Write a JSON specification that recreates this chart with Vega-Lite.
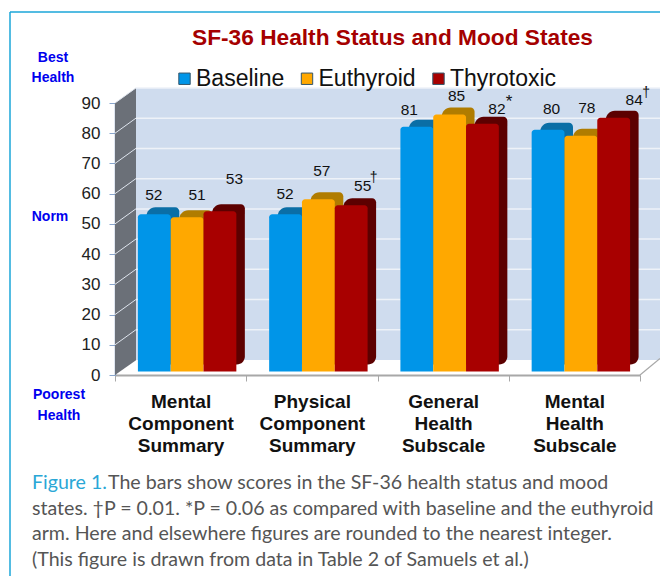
{
"$schema":"https://vega.github.io/schema/vega-lite/v6.json",
"width":525,"height":272,
"autosize":"none",
"padding":{"left":115,"top":103,"right":20,"bottom":201},
"background":"white",
"title":{"text":"SF-36 Health Status and Mood States","font":"Liberation Sans","fontSize":22.7,"fontWeight":"bold","color":"#a50000","anchor":"middle","dx":15,"offset":-56,"baseline":"alphabetic"},
"config":{"view":{"stroke":null},"font":"Liberation Sans","axisY":{"tickCount":10,"grid":false,"labelFontSize":17,"labelColor":"#222222","labelFont":"Liberation Sans","labelPadding":9,"tickSize":6,"tickColor":"#8aa6cc","domainColor":"#7f9cc6","domainWidth":1.5,"zindex":1,"labelOverlap":false}},
"datasets":{
"scores":[
{"scale":"Mental Component Summary","arm":"Baseline","score":52},
{"scale":"Mental Component Summary","arm":"Euthyroid","score":51},
{"scale":"Mental Component Summary","arm":"Thyrotoxic","score":53},
{"scale":"Physical Component Summary","arm":"Baseline","score":52},
{"scale":"Physical Component Summary","arm":"Euthyroid","score":57},
{"scale":"Physical Component Summary","arm":"Thyrotoxic","score":55},
{"scale":"General Health Subscale","arm":"Baseline","score":81},
{"scale":"General Health Subscale","arm":"Euthyroid","score":85},
{"scale":"General Health Subscale","arm":"Thyrotoxic","score":82},
{"scale":"Mental Health Subscale","arm":"Baseline","score":80},
{"scale":"Mental Health Subscale","arm":"Euthyroid","score":78},
{"scale":"Mental Health Subscale","arm":"Thyrotoxic","score":84}
]},
"data":{"name":"scores"},
"resolve":{"scale":{"x":"independent","color":"independent"}},
"layer":[
{"data":{"values":[{"from":0,"to":1,"low":0,"high":90}]},
 "mark":{"type":"rect","color":"#cfdcee","yOffset":-15,"y2Offset":-15},
 "encoding":{"x":{"field":"from","type":"quantitative","axis":null,"scale":{"domain":[0,1],"range":[21,545]}},"x2":{"field":"to"},"y":{"field":"high","type":"quantitative","title":null,"scale":{"domain":[0,90]}},"y2":{"field":"low"}}},
{"data":{"values":[{"from":0,"to":1,"level":10},{"from":0,"to":1,"level":20},{"from":0,"to":1,"level":30},{"from":0,"to":1,"level":40},{"from":0,"to":1,"level":50},{"from":0,"to":1,"level":60},{"from":0,"to":1,"level":70},{"from":0,"to":1,"level":80},{"from":0,"to":1,"level":90}]},
 "mark":{"type":"rule","color":"#eef2f8","strokeWidth":1.5,"yOffset":-15},
 "encoding":{"x":{"field":"from","type":"quantitative","axis":null,"scale":{"domain":[0,1],"range":[21,545]}},"x2":{"field":"to"},"y":{"field":"level","type":"quantitative","title":null}}},
{"data":{"values":[{"depth":0,"floor":0,"ceiling":90},{"depth":1,"floor":4.9,"ceiling":95}]},
 "mark":{"type":"area","color":"#6b7078","clip":false},
 "encoding":{"x":{"field":"depth","type":"quantitative","axis":null,"scale":{"domain":[0,1],"range":[0,21]}},"y":{"field":"ceiling","type":"quantitative","title":null},"y2":{"field":"floor"}}},
{"data":{"values":[{"depth":0,"level":10,"height":10},{"depth":1,"level":10,"height":15},{"depth":0,"level":20,"height":20},{"depth":1,"level":20,"height":25},{"depth":0,"level":30,"height":30},{"depth":1,"level":30,"height":35},{"depth":0,"level":40,"height":40},{"depth":1,"level":40,"height":45},{"depth":0,"level":50,"height":50},{"depth":1,"level":50,"height":55},{"depth":0,"level":60,"height":60},{"depth":1,"level":60,"height":65},{"depth":0,"level":70,"height":70},{"depth":1,"level":70,"height":75},{"depth":0,"level":80,"height":80},{"depth":1,"level":80,"height":85},{"depth":0,"level":90,"height":90},{"depth":1,"level":90,"height":95}]},
 "mark":{"type":"line","color":"#dfe5ee","strokeWidth":1},
 "encoding":{"x":{"field":"depth","type":"quantitative","axis":null,"scale":{"domain":[0,1],"range":[0,21]}},"y":{"field":"height","type":"quantitative","title":null},"detail":{"field":"level"}}},
{"data":{"values":[{"depth":0,"height":0},{"depth":1,"height":5.5}]},
 "mark":{"type":"line","color":"#a8a8a8","strokeWidth":1.2},
 "encoding":{"x":{"field":"depth","type":"quantitative","axis":null,"scale":{"domain":[0,1],"range":[525,545]}},"y":{"field":"height","type":"quantitative","title":null}}},
{"mark":{"type":"bar","yOffset":-10.5,"y2Offset":-10.5,"cornerRadiusTopLeft":9,"cornerRadiusTopRight":4,"cornerRadiusBottomRight":8},
 "encoding":{"x":{"field":"scale","type":"nominal","axis":null,"scale":{"domain":["Mental Component Summary","Physical Component Summary","General Health Subscale","Mental Health Subscale"],"paddingInner":0,"paddingOuter":0,"range":[15,540]}},
 "xOffset":{"field":"arm","type":"nominal","scale":{"domain":["Baseline","Euthyroid","Thyrotoxic"],"paddingInner":0,"paddingOuter":0.5}},
 "y":{"field":"score","type":"quantitative","title":null},"y2":{"datum":0},
 "color":{"field":"arm","type":"nominal","legend":null,"scale":{"domain":["Baseline","Euthyroid","Thyrotoxic"],"range":["#0a6ea6","#b07c00","#5c0000"]}}}},
{"mark":{"type":"bar","yOffset":-3.5,"y2Offset":-3.5,"cornerRadiusTopLeft":3,"cornerRadiusTopRight":3},
 "encoding":{"x":{"field":"scale","type":"nominal","axis":null,"scale":{"domain":["Mental Component Summary","Physical Component Summary","General Health Subscale","Mental Health Subscale"],"paddingInner":0,"paddingOuter":0,"range":[6.5,531.5]}},
 "xOffset":{"field":"arm","type":"nominal","scale":{"domain":["Baseline","Euthyroid","Thyrotoxic"],"paddingInner":0,"paddingOuter":0.5}},
 "y":{"field":"score","type":"quantitative","title":null},"y2":{"datum":0},
 "color":{"field":"arm","type":"nominal","scale":{"domain":["Baseline","Euthyroid","Thyrotoxic"],"range":["#0095e8","#ffa800","#a80000"]},
   "legend":{"title":null,"orient":"none","legendX":58,"legendY":-36,"direction":"horizontal","columns":3,"symbolType":"square","symbolSize":130,"symbolStrokeColor":"#33556a","symbolStrokeWidth":1,"labelFontSize":23,"labelFont":"Liberation Sans","labelColor":"#111111","columnPadding":10.5,"symbolOffset":0,"labelOffset":0}}}},
{"encoding":{"x":{"field":"scale","type":"nominal","title":null,"sort":null,"scale":{"domain":["Mental Component Summary","Physical Component Summary","General Health Subscale","Mental Health Subscale"],"paddingInner":0,"paddingOuter":0},
   "axis":{"labelExpr":"split(datum.label,' ')","labelAngle":0,"labelFontSize":19,"labelFontWeight":"bold","labelColor":"#111111","labelFont":"Liberation Sans","labelLineHeight":22,"labelPadding":11,"labelLimit":200,"tickBand":"extent","tickSize":6,"tickColor":"#a8a8a8","domainColor":"#a8a8a8","domainWidth":2,"labelBaseline":"top"}},
 "xOffset":{"field":"arm","type":"nominal","scale":{"domain":["Baseline","Euthyroid","Thyrotoxic"],"paddingInner":0,"paddingOuter":0.5}},
 "y":{"field":"score","type":"quantitative","title":null},
 "text":{"field":"score","type":"quantitative"}},
 "layer":[
 {"transform":[{"filter":"datum.scale=='Mental Component Summary'&&datum.arm=='Baseline'"}],"mark":{"type":"text","fontSize":15.5,"color":"#111111","dx":6,"dy":-23}},
 {"transform":[{"filter":"datum.scale=='Mental Component Summary'&&datum.arm=='Euthyroid'"}],"mark":{"type":"text","fontSize":15.5,"color":"#111111","dx":16.5,"dy":-26}},
 {"transform":[{"filter":"datum.scale=='Mental Component Summary'&&datum.arm=='Thyrotoxic'"}],"mark":{"type":"text","fontSize":15.5,"color":"#111111","dx":21,"dy":-36}},
 {"transform":[{"filter":"datum.scale=='Physical Component Summary'&&datum.arm=='Baseline'"}],"mark":{"type":"text","fontSize":15.5,"color":"#111111","dx":6,"dy":-24}},
 {"transform":[{"filter":"datum.scale=='Physical Component Summary'&&datum.arm=='Euthyroid'"}],"mark":{"type":"text","fontSize":15.5,"color":"#111111","dx":10,"dy":-32}},
 {"transform":[{"filter":"datum.scale=='Physical Component Summary'&&datum.arm=='Thyrotoxic'"}],"mark":{"type":"text","fontSize":15.5,"color":"#111111","dx":18,"dy":-23}},
 {"transform":[{"filter":"datum.scale=='General Health Subscale'&&datum.arm=='Baseline'"}],"mark":{"type":"text","fontSize":15.5,"color":"#111111","dx":-1,"dy":-20}},
 {"transform":[{"filter":"datum.scale=='General Health Subscale'&&datum.arm=='Euthyroid'"}],"mark":{"type":"text","fontSize":15.5,"color":"#111111","dx":13.5,"dy":-22}},
 {"transform":[{"filter":"datum.scale=='General Health Subscale'&&datum.arm=='Thyrotoxic'"}],"mark":{"type":"text","fontSize":15.5,"color":"#111111","dx":21,"dy":-18}},
 {"transform":[{"filter":"datum.scale=='Mental Health Subscale'&&datum.arm=='Baseline'"}],"mark":{"type":"text","fontSize":15.5,"color":"#111111","dx":10,"dy":-24}},
 {"transform":[{"filter":"datum.scale=='Mental Health Subscale'&&datum.arm=='Euthyroid'"}],"mark":{"type":"text","fontSize":15.5,"color":"#111111","dx":12.5,"dy":-31}},
 {"transform":[{"filter":"datum.scale=='Mental Health Subscale'&&datum.arm=='Thyrotoxic'"}],"mark":{"type":"text","fontSize":15.5,"color":"#111111","dx":27,"dy":-21}},
 {"transform":[{"filter":"datum.scale=='Physical Component Summary'&&datum.arm=='Thyrotoxic'"}],"mark":{"type":"text","fontSize":14,"color":"#111111","dx":29,"dy":-31},"encoding":{"text":{"value":"†"}}},
 {"transform":[{"filter":"datum.scale=='General Health Subscale'&&datum.arm=='Thyrotoxic'"}],"mark":{"type":"text","fontSize":17,"color":"#111111","dx":33,"dy":-25},"encoding":{"text":{"value":"*"}}},
 {"transform":[{"filter":"datum.scale=='Mental Health Subscale'&&datum.arm=='Thyrotoxic'"}],"mark":{"type":"text","fontSize":14,"color":"#111111","dx":39,"dy":-28},"encoding":{"text":{"value":"†"}}}
 ]},
{"data":{"values":[{"from":0,"to":1,"top":90,"bottom":0}]},
 "encoding":{"x":{"field":"from","type":"quantitative","axis":null,"scale":{"domain":[0,1],"range":[-105,545]}}},
 "layer":[
 {"mark":{"type":"rule","color":"#1ba6d8","strokeWidth":1.5,"yOffset":-91},"encoding":{"x2":{"field":"to"},"y":{"field":"top","type":"quantitative","title":null}}},
 {"mark":{"type":"rule","color":"#1ba6d8","strokeWidth":1.5,"yOffset":-91,"y2Offset":201},"encoding":{"y":{"field":"top","type":"quantitative","title":null},"y2":{"field":"bottom"}}}
 ]},
{"data":{"values":[{"left":0,"best":90,"norm":50,"poor":0}]},
 "encoding":{"x":{"field":"left","type":"quantitative","axis":null,"scale":{"domain":[0,1],"range":[0,525]}}},
 "layer":[
 {"mark":{"type":"text","font":"Liberation Sans","fontWeight":"bold","fontSize":14,"color":"#0000ee","lineHeight":20,"align":"center","baseline":"middle","dx":-62,"dy":-45},"encoding":{"y":{"field":"best","type":"quantitative","title":null},"text":{"value":["Best","Health"]}}},
 {"mark":{"type":"text","font":"Liberation Sans","fontWeight":"bold","fontSize":14,"color":"#0000ee","align":"center","baseline":"middle","dx":-65,"dy":-7},"encoding":{"y":{"field":"norm","type":"quantitative","title":null},"text":{"value":"Norm"}}},
 {"mark":{"type":"text","font":"Liberation Sans","fontWeight":"bold","fontSize":14,"color":"#0000ee","lineHeight":21,"align":"center","baseline":"middle","dx":-56,"dy":20},"encoding":{"y":{"field":"poor","type":"quantitative","title":null},"text":{"value":["Poorest","Health"]}}},
 {"mark":{"type":"text","font":"Lato","fontSize":19.6,"color":"#2aa7d6","align":"left","baseline":"alphabetic","dx":-83,"dy":114},"encoding":{"y":{"field":"poor","type":"quantitative","title":null},"text":{"value":"Figure 1."}}},
 {"mark":{"type":"text","font":"Lato","fontSize":19.6,"color":"#555555","align":"left","baseline":"alphabetic","dx":-7,"dy":114},"encoding":{"y":{"field":"poor","type":"quantitative","title":null},"text":{"value":"The bars show scores in the SF-36 health status and mood"}}},
 {"mark":{"type":"text","font":"Lato","fontSize":19.6,"color":"#555555","align":"left","baseline":"alphabetic","dx":-83,"dy":139.5,"lineHeight":25.5},"encoding":{"y":{"field":"poor","type":"quantitative","title":null},"text":{"value":["states. †P = 0.01. *P = 0.06 as compared with baseline and the euthyroid","arm. Here and elsewhere figures are rounded to the nearest integer.","(This figure is drawn from data in Table 2 of Samuels et al.)"]}}}
 ]}
]
}
